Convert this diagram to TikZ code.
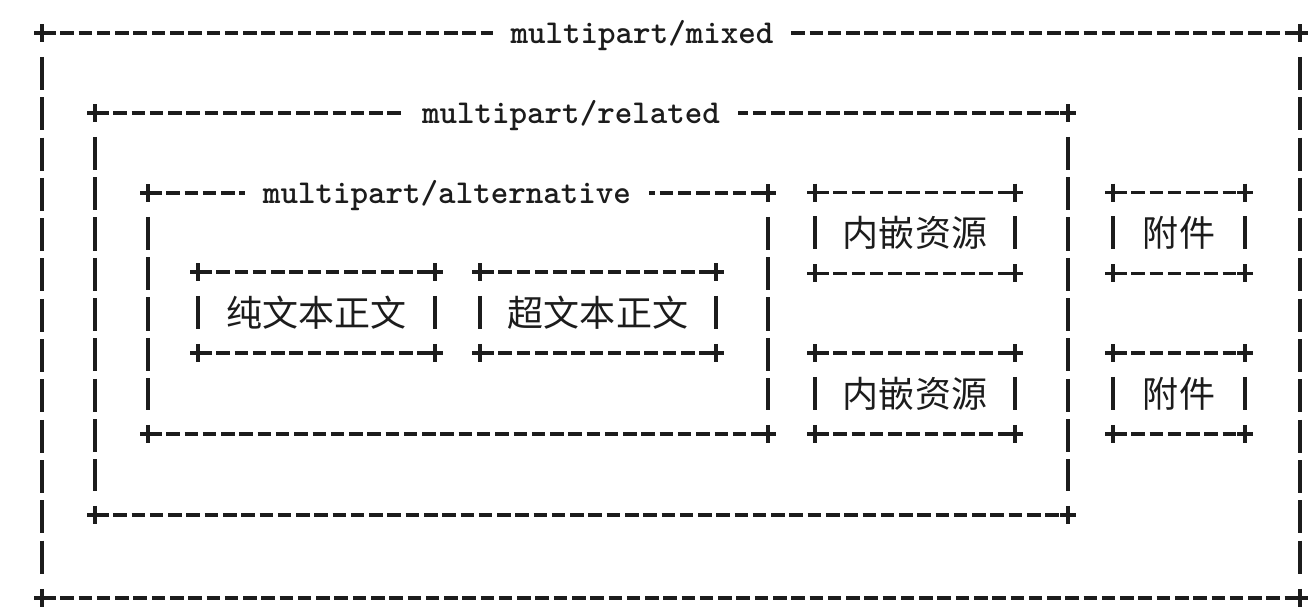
\documentclass[tikz,border=0pt]{standalone}
\usepackage{fontspec}
\newfontfamily\cjkfont{Noto Sans CJK SC}
\definecolor{ink}{HTML}{1C1C1C}

% one ascii-style box: dashed edges, "+" at the corners
\newcommand{\asciibox}[1]{%
  \draw[hline] (#1.north west) -- (#1.north east) (#1.south west) -- (#1.south east);
  \draw[vline] (#1.north west) -- (#1.south west);
  \draw[vline] (#1.north east) -- (#1.south east);
  \foreach \anc in {north west,north east,south west,south east}
    \draw[corner] ([shift={(-8,0)}]#1.\anc) -- ([shift={(8,0)}]#1.\anc)
                  ([shift={(0,-9)}]#1.\anc) -- ([shift={(0,9)}]#1.\anc);
}

\begin{document}
\begin{tikzpicture}[x=0.02cm, y=-0.02cm, line width=1.9pt, draw=ink, text=ink,
    frame/.style={inner sep=0pt, outer sep=0pt},
    cell/.style={frame, minimum height=1.62cm, font=\cjkfont\fontsize{20.5}{24}\selectfont},
    tag/.style={fill=white, inner xsep=0.36cm, inner ysep=3pt,
                font=\ttfamily\bfseries\fontsize{19}{22}\selectfont},
    hline/.style={dash pattern=on 7.7pt off 2.7pt},
    vline/.style={dash pattern=on 18.8pt off 4.15pt, shorten <=13.55pt, shorten >=13.55pt},
    corner/.style={solid, line cap=butt}]
  \useasboundingbox (0,0) rectangle (1315,614);

  % nested containers
  \node[frame, minimum width=25.16cm, minimum height=11.3cm] (mixed) at (671,315.5) {};
  \node[frame, minimum width=19.46cm, minimum height=8.04cm] (related) at (581.5,314) {};
  \node[frame, minimum width=12.4cm, minimum height=4.82cm] (alternative) at (458,313.5) {};

  % leaf parts
  \node[cell, minimum width=4.74cm] (plain) at (316.5,312.5) {纯文本正文};
  \node[cell, minimum width=4.72cm] (html) at (598,312.5) {超文本正文};
  \node[cell, minimum width=4cm] (inlineA) at (915,233) {内嵌资源};
  \node[cell, minimum width=4cm] (inlineB) at (915,393.5) {内嵌资源};
  \node[cell, minimum width=2.64cm] (attachA) at (1179,233) {附件};
  \node[cell, minimum width=2.64cm] (attachB) at (1179,393.5) {附件};

  \foreach \frm in {mixed,related,alternative,plain,html,inlineA,inlineB,attachA,attachB}
    {\asciibox{\frm}}

  % titles cut into the top edges
  \node[tag] (mixedtag) at (642,36) {multipart/mixed};
  \node[tag] (relatedtag) at (571,116) {multipart/related};
  \node[tag] (alternativetag) at (447,196) {multipart/alternative};
\end{tikzpicture}
\end{document}
